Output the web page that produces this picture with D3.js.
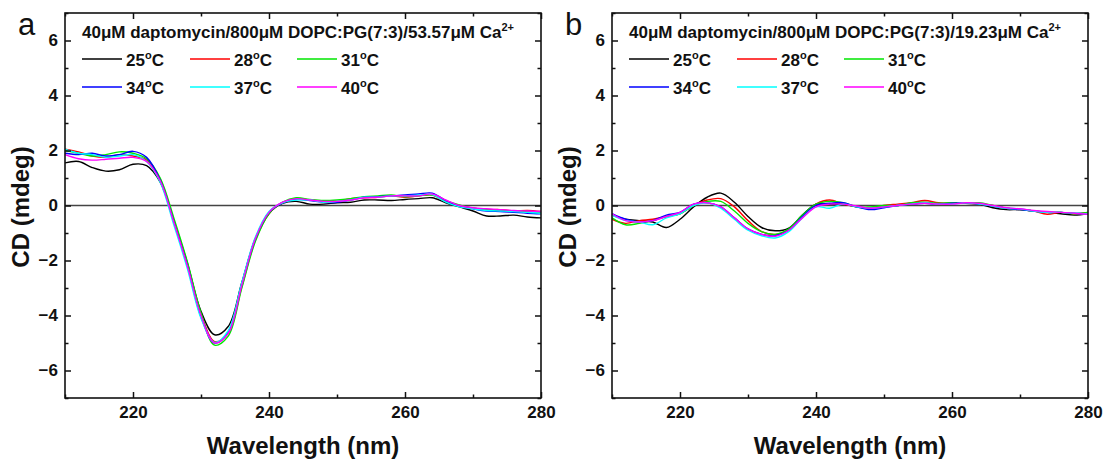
<!DOCTYPE html>
<html>
<head>
<meta charset="utf-8">
<script src="https://cdn.jsdelivr.net/npm/d3@7/dist/d3.min.js"></script>
<style>
    body { margin: 0; background: #fff; }
    svg text { font-family: Arial, "Liberation Sans", sans-serif; fill: #111; }
</style>
</head>
<body>
<div id="chart"></div>
<script>
// wavelengths (nm) the spectra were read at
var wavelength = [210, 212, 214, 216, 218, 220, 222, 224, 226, 228, 230, 232, 234, 236, 238, 240, 242, 244,
                  246, 248, 250, 252, 254, 256, 258, 260, 262, 264, 266, 268, 270, 272, 274, 276, 278, 280];

var temps = ["25", "28", "31", "34", "37", "40"];
var lineColors = ["#000000", "#ff0000", "#00e600", "#0000ff", "#00ffff", "#ff00ff"];
var xMajor = [220, 240, 260, 280];
var xMinor = [210, 230, 250, 270];
var yMajor = [-6, -4, -2, 0, 2, 4, 6];
var yMinor = [-7, -5, -3, -1, 1, 3, 5, 7];

// panel a : 53.57uM Ca2+
var a25 = [1.55, 1.6, 1.38, 1.25, 1.3, 1.5, 1.45, 0.85, -0.55, -2.1, -3.85, -4.7, -4.4, -2.8, -1.2, -0.28, 0.08, 0.15,
           0.05, 0.05, 0.1, 0.12, 0.2, 0.2, 0.18, 0.22, 0.25, 0.28, 0.1, -0.05, -0.2, -0.38, -0.38, -0.35, -0.42, -0.45];
var a28 = [2.05, 1.95, 1.8, 1.75, 1.85, 1.8, 1.65, 0.95, -0.55, -2.15, -3.95, -4.95, -4.65, -2.95, -1.25, -0.3, 0.1, 0.25,
           0.2, 0.15, 0.15, 0.25, 0.28, 0.3, 0.35, 0.3, 0.35, 0.38, 0.15, 0.0, -0.1, -0.15, -0.15, -0.2, -0.18, -0.22];
var a31 = [2.0, 1.9, 1.8, 1.85, 1.95, 1.9, 1.7, 1.0, -0.45, -2.05, -3.9, -5.08, -4.75, -3.0, -1.3, -0.3, 0.12, 0.28,
           0.22, 0.18, 0.2, 0.25, 0.32, 0.35, 0.38, 0.32, 0.35, 0.38, 0.18, 0.02, -0.1, -0.15, -0.18, -0.2, -0.22, -0.25];
var a34 = [1.9, 1.85, 1.9, 1.8, 1.85, 1.97, 1.75, 0.92, -0.6, -2.2, -4.05, -5.0, -4.6, -2.85, -1.2, -0.25, 0.1, 0.22,
           0.18, 0.12, 0.12, 0.2, 0.3, 0.32, 0.35, 0.38, 0.42, 0.45, 0.18, -0.02, -0.12, -0.2, -0.22, -0.25, -0.28, -0.3];
var a37 = [2.05, 1.9, 1.85, 1.75, 1.8, 1.85, 1.6, 0.85, -0.7, -2.3, -4.1, -4.98, -4.55, -2.8, -1.15, -0.22, 0.1, 0.2,
           0.2, 0.12, 0.15, 0.2, 0.3, 0.3, 0.35, 0.35, 0.38, 0.4, 0.12, -0.05, -0.12, -0.18, -0.2, -0.22, -0.25, -0.28];
var a40 = [1.85, 1.7, 1.65, 1.68, 1.72, 1.75, 1.6, 0.9, -0.6, -2.2, -4.0, -5.0, -4.65, -2.9, -1.2, -0.25, 0.12, 0.25,
           0.2, 0.15, 0.15, 0.2, 0.28, 0.3, 0.35, 0.35, 0.35, 0.42, 0.2, 0.0, -0.08, -0.12, -0.15, -0.18, -0.2, -0.22];

// panel b : 19.23uM Ca2+
var b25 = [-0.35, -0.5, -0.55, -0.6, -0.8, -0.5, -0.05, 0.3, 0.45, 0.12, -0.4, -0.8, -0.92, -0.82, -0.35, 0.05, 0.05, 0.05,
           -0.05, -0.1, -0.05, 0.0, 0.05, 0.1, 0.05, 0.1, 0.08, 0.05, -0.08, -0.15, -0.15, -0.2, -0.25, -0.3, -0.35, -0.3];
var b28 = [-0.5, -0.65, -0.55, -0.5, -0.4, -0.3, 0.0, 0.2, 0.25, -0.05, -0.55, -0.95, -1.05, -0.9, -0.4, 0.05, 0.2, 0.05,
           -0.05, -0.1, 0.0, 0.05, 0.1, 0.18, 0.1, 0.08, 0.1, 0.05, 0.0, -0.1, -0.15, -0.2, -0.32, -0.25, -0.3, -0.25];
var b31 = [-0.45, -0.7, -0.65, -0.55, -0.4, -0.3, 0.0, 0.15, 0.15, -0.2, -0.65, -0.95, -1.05, -0.85, -0.35, 0.05, 0.15, 0.1,
           -0.05, -0.05, 0.0, 0.0, 0.1, 0.12, 0.08, 0.1, 0.08, 0.1, 0.0, -0.1, -0.15, -0.2, -0.25, -0.25, -0.3, -0.25];
var b34 = [-0.3, -0.5, -0.6, -0.55, -0.35, -0.25, 0.05, 0.1, -0.05, -0.45, -0.85, -1.05, -1.1, -0.9, -0.4, 0.0, 0.08, 0.1,
           -0.05, -0.15, -0.08, 0.0, 0.05, 0.08, 0.05, 0.08, 0.1, 0.05, -0.02, -0.1, -0.15, -0.2, -0.25, -0.25, -0.28, -0.3];
var b37 = [-0.35, -0.55, -0.6, -0.7, -0.45, -0.3, 0.0, 0.1, -0.1, -0.5, -0.9, -1.1, -1.18, -0.95, -0.45, -0.05, -0.1, 0.05,
           -0.05, -0.1, -0.05, 0.0, 0.05, 0.1, 0.05, 0.05, 0.1, 0.05, -0.02, -0.1, -0.12, -0.2, -0.25, -0.25, -0.28, -0.3];
var b40 = [-0.3, -0.55, -0.6, -0.55, -0.4, -0.25, 0.05, 0.1, -0.05, -0.45, -0.85, -1.05, -1.12, -0.9, -0.45, -0.05, 0.05, 0.05,
           -0.02, -0.1, -0.05, 0.0, 0.05, 0.08, 0.05, 0.05, 0.1, 0.08, 0.0, -0.08, -0.12, -0.18, -0.22, -0.25, -0.28, -0.32];

var panels = [
    { letter: "a", ca: "53.57", series: [a25, a28, a31, a34, a37, a40], left: 65, right: 541 },
    { letter: "b", ca: "19.23", series: [b25, b28, b31, b34, b37, b40], left: 612, right: 1088 }
];

//****** SETUP SVG ******//
var W = 1104, H = 461, plotTop = 13, plotBottom = 398;

var svg = d3.select("#chart")
    .append("svg")
    .attr("width", W)
    .attr("height", H);

var y = d3.scaleLinear().domain([-7, 7]).range([plotBottom, plotTop]);

// axes, ticks pointing inward
function styleAxis(sel) {
    sel.selectAll("path").remove();
    sel.selectAll("line").style("stroke", "#111").style("stroke-width", "1.5px");
    sel.selectAll("text").style("font-size", "17px").style("font-weight", "bold").style("fill", "#111");
}

panels.forEach(function(p) {
    var x = d3.scaleLinear().domain([210, 280]).range([p.left, p.right]);
    var g = svg.append("g");

    // zero line
    g.append("line")
        .attr("x1", p.left).attr("x2", p.right)
        .attr("y1", y(0)).attr("y2", y(0))
        .style("stroke", "#444")
        .style("stroke-width", "1.5px");

    // spectra
    var line = d3.line()
        .curve(d3.curveCatmullRom)
        .x(function(d, i) { return x(wavelength[i]); })
        .y(function(d) { return y(d); });

    p.series.forEach(function(s, i) {
        g.append("path")
            .datum(s)
            .attr("d", line)
            .style("fill", "none")
            .style("stroke", lineColors[i])
            .style("stroke-width", "1.4px");
    });

    g.append("g")
        .attr("transform", "translate(0," + plotBottom + ")")
        .call(d3.axisBottom(x).tickValues(xMajor).tickSize(-6).tickPadding(8).tickFormat(d3.format("d")))
        .call(styleAxis);
    g.append("g")
        .attr("transform", "translate(0," + plotBottom + ")")
        .call(d3.axisBottom(x).tickValues(xMinor).tickSize(-3.5).tickFormat(""))
        .call(styleAxis);
    g.append("g")
        .attr("transform", "translate(0," + plotTop + ")")
        .call(d3.axisTop(x).tickValues(xMajor).tickSize(-6).tickFormat(""))
        .call(styleAxis);
    g.append("g")
        .attr("transform", "translate(0," + plotTop + ")")
        .call(d3.axisTop(x).tickValues(xMinor).tickSize(-3.5).tickFormat(""))
        .call(styleAxis);

    g.append("g")
        .attr("transform", "translate(" + p.left + ",0)")
        .call(d3.axisLeft(y).tickValues(yMajor).tickSize(-6).tickPadding(7).tickFormat(d3.format("d")))
        .call(styleAxis);
    g.append("g")
        .attr("transform", "translate(" + p.left + ",0)")
        .call(d3.axisLeft(y).tickValues(yMinor).tickSize(-3.5).tickFormat(""))
        .call(styleAxis);
    g.append("g")
        .attr("transform", "translate(" + p.right + ",0)")
        .call(d3.axisRight(y).tickValues(yMajor).tickSize(-6).tickFormat(""))
        .call(styleAxis);
    g.append("g")
        .attr("transform", "translate(" + p.right + ",0)")
        .call(d3.axisRight(y).tickValues(yMinor).tickSize(-3.5).tickFormat(""))
        .call(styleAxis);

    // frame
    g.append("rect")
        .attr("x", p.left).attr("y", plotTop)
        .attr("width", p.right - p.left).attr("height", plotBottom - plotTop)
        .style("fill", "none")
        .style("stroke", "#111")
        .style("stroke-width", "1.6px");

    // axis titles
    g.append("text")
        .attr("x", (p.left + p.right) / 2)
        .attr("y", 454)
        .style("text-anchor", "middle")
        .style("font-size", "24px")
        .style("font-weight", "bold")
        .text("Wavelength (nm)");

    g.append("text")
        .attr("transform", "translate(" + (p.left - 36) + "," + 207 + ") rotate(-90)")
        .style("text-anchor", "middle")
        .style("font-size", "24px")
        .style("font-weight", "bold")
        .text("CD (mdeg)");

    // panel letter
    g.append("text")
        .attr("x", p.left - 47)
        .attr("y", 35)
        .style("font-size", "31px")
        .text(p.letter);

    // legend title
    var title = g.append("text")
        .attr("x", p.left + 17)
        .attr("y", 38)
        .style("font-size", "17px")
        .style("font-weight", "bold");
    title.append("tspan").text("40\u03bcM daptomycin/800\u03bcM DOPC:PG(7:3)/" + p.ca + "\u03bcM Ca");
    title.append("tspan").attr("dy", -7).style("font-size", "11px").text("2+");

    // legend entries
    var colX = [17, 125, 232];
    var rowY = [59, 87];
    temps.forEach(function(t, i) {
        var lx = p.left + colX[i % 3];
        var ly = rowY[Math.floor(i / 3)];
        g.append("line")
            .attr("x1", lx).attr("x2", lx + 40)
            .attr("y1", ly).attr("y2", ly)
            .style("stroke", lineColors[i])
            .style("stroke-width", "1.5px");
        var lt = g.append("text")
            .attr("x", lx + 44)
            .attr("y", ly + 7)
            .style("font-size", "17px")
            .style("font-weight", "bold");
        lt.append("tspan").text(t);
        lt.append("tspan").attr("dy", -7).style("font-size", "11px").text("o");
        lt.append("tspan").attr("dy", 7).text("C");
    });
});
</script>
</body>
</html>
